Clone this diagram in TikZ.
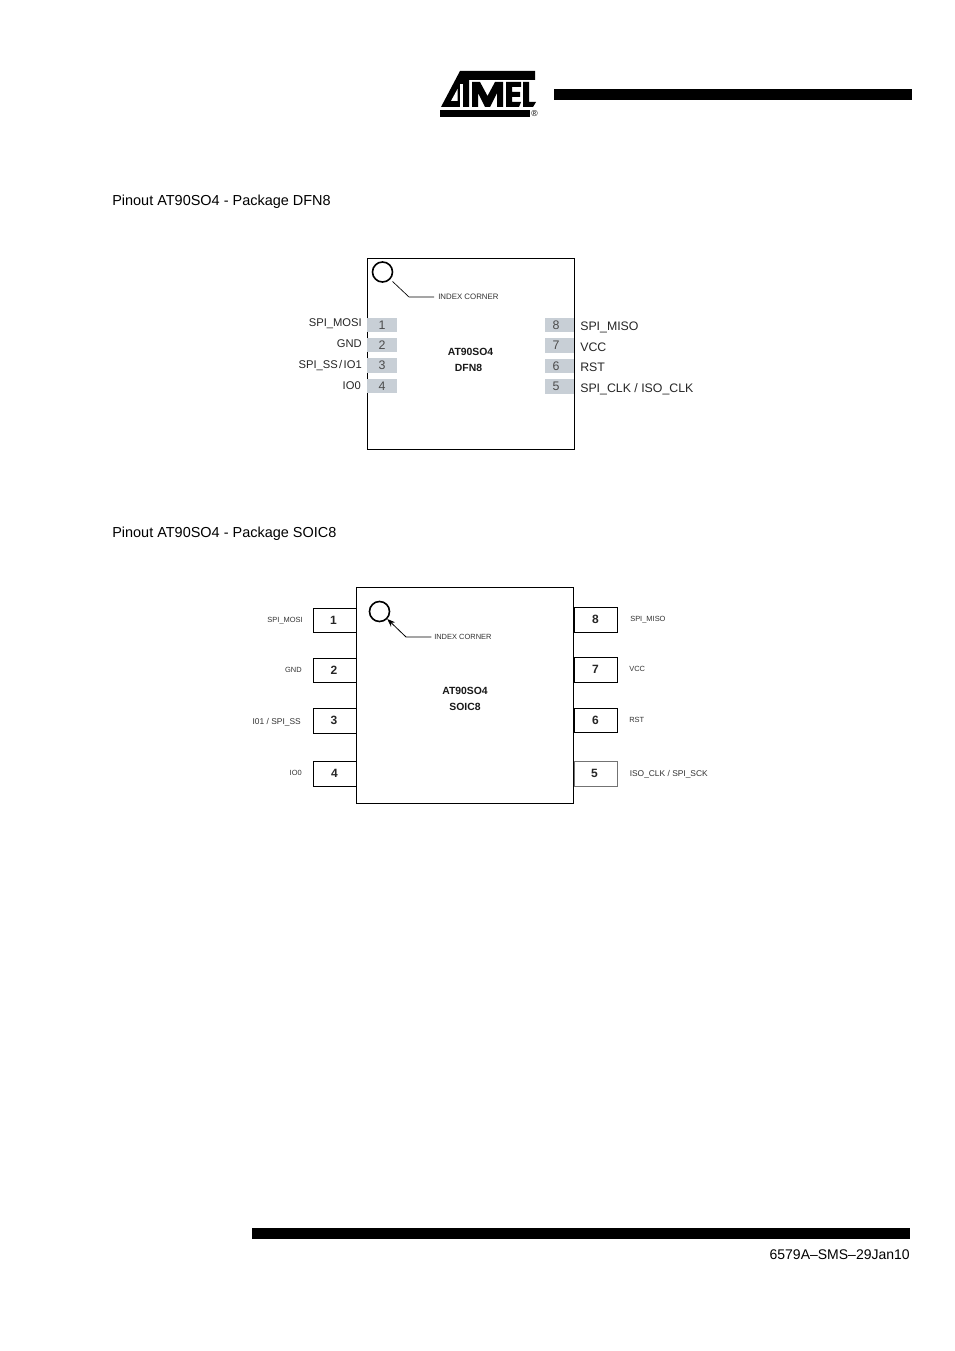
\documentclass[tikz,border=0pt]{standalone}
\usepackage{fontspec}
\usepackage{tikz}
\usetikzlibrary{arrows.meta}
\setmainfont{Liberation Sans}
\newdimen\pxu
\pxu=0.75pt
\definecolor{padgrey}{RGB}{200,207,214}
\tikzset{
  pad/.style={fill=padgrey,inner sep=0pt,text=black!70,font=\fontsize{9.3}{11}\selectfont},
  lead/.style={draw=black,line width=0.7pt,inner sep=0pt,font=\bfseries\fontsize{9}{11}\selectfont,text=black!85},
  leftlabel/.style={inner sep=0pt,anchor=east,font=\fontsize{8.4}{10}\selectfont,text=black!85},
  rightlabel/.style={inner sep=0pt,anchor=west,font=\fontsize{9.25}{11}\selectfont,text=black!85},
  smalllabel/.style={inner sep=0pt,font=\fontsize{5.6}{7}\selectfont,text=black!80},
  widelabel/.style={inner sep=0pt,font=\fontsize{6.3}{7}\selectfont,text=black!80},
  chiplabel/.style={inner sep=0pt,font=\bfseries\fontsize{7.8}{9}\selectfont,text=black!90},
  heading/.style={inner sep=0pt,anchor=west,font=\fontsize{10.85}{13}\selectfont},
  body/.style={draw=black,line width=0.7pt,inner sep=0pt},
  marker/.style={draw=black,circle,line width=1.2pt,inner sep=0pt,minimum size=20\pxu}
}
\begin{document}
\begin{tikzpicture}[x=0.75pt,y=-0.75pt]
\useasboundingbox (0,0) rectangle (954,1351);
\fill[white] (0,0) rectangle (954,1351);

% page header
\node [fill=black,inner sep=0pt,minimum width=358\pxu,minimum height=11\pxu] (topbar) at(733,94.5) {};
\fill[black] (460,71) -- (535,71) -- (535,80) -- (469,80) -- (469,107) -- (441,107) -- cycle;
\fill[white] (460,84) -- (462.5,84) -- (462.5,107) -- (460,107) -- cycle;
\fill[white] (457.5,89) -- (457.5,101) -- (451,101) -- cycle;
\fill[black] (472,82) -- (480,82) -- (487.5,96) -- (495,82) -- (503,82) -- (503,107) -- (497,107) -- (497,93) -- (490,107) -- (485,107) -- (478,93) -- (478,107) -- (472,107) -- cycle;
\fill[black] (506,82) -- (521,82) -- (521,87) -- (512,87) -- (512,92) -- (520,92) -- (520,97) -- (512,97) -- (512,102) -- (521,102) -- (519,107) -- (506,107) -- cycle;
\fill[black] (523,82) -- (529,82) -- (529,102) -- (536,102) -- (533,107) -- (523,107) -- cycle;
\fill[black] (440,110) -- (530,110) -- (530,117) -- (440,117) -- cycle;
\node [inner sep=0pt,font=\fontsize{6.5}{7}\selectfont] (reg) at(534.5,114) {\textregistered};

\node [heading] (dfnhead) at(112,201.5) {Pinout AT90SO4 - Package DFN8};
\node [heading] (soichead) at(112,533.5) {Pinout AT90SO4 - Package SOIC8};

% DFN8
\node [body,minimum width=207\pxu,minimum height=191\pxu] (dfn) at(470.5,353.5) {};
\node [marker] (dfndot) at(382.5,272) {};
\coordinate (dfnbend) at(409,297);
\node [smalllabel,anchor=west,font=\fontsize{5.9}{7}\selectfont] (dfnindex) at(438,297) {INDEX CORNER};
\draw [line width=0.5pt,shorten <=3\pxu,shorten >=4\pxu] (dfndot) -- (dfnbend) -- (dfnindex.west);

\node [pad,minimum width=30\pxu,minimum height=14\pxu] (d1) at(382,325) {1};
\node [pad,minimum width=30\pxu,minimum height=14\pxu] (d2) at(382,345) {2};
\node [pad,minimum width=30\pxu,minimum height=15\pxu] (d3) at(382,365.5) {3};
\node [pad,minimum width=30\pxu,minimum height=14\pxu] (d4) at(382,386) {4};
\node [pad,minimum width=29\pxu,minimum height=14\pxu] (d8) at(559.5,325) {8\kern7\pxu};
\node [pad,minimum width=29\pxu,minimum height=15\pxu] (d7) at(559.5,345.5) {7\kern7\pxu};
\node [pad,minimum width=29\pxu,minimum height=14\pxu] (d6) at(559.5,366) {6\kern7\pxu};
\node [pad,minimum width=29\pxu,minimum height=15\pxu] (d5) at(559.5,386.5) {5\kern7\pxu};

\node [leftlabel] (dl1) at(362,324) {SPI\_MOSI};
\node [leftlabel] (dl2) at(362,344) {GND};
\node [leftlabel] (dl3) at(362,366) {SPI\_SS\kern1pt/\kern1ptIO1};
\node [leftlabel] (dl4) at(361,386) {IO0};
\node [rightlabel] (dl8) at(580,327) {SPI\_MISO};
\node [rightlabel] (dl7) at(580,347) {VCC};
\node [rightlabel] (dl6) at(580,367) {RST};
\node [rightlabel] (dl5) at(580,389) {SPI\_CLK / ISO\_CLK};

\node [chiplabel] (dfnname) at(470.5,352) {AT90SO4};
\node [chiplabel] (dfnpack) at(468.5,368) {DFN8};

% SOIC8
\node [lead,minimum width=43\pxu,minimum height=24\pxu] (s1) at(334.5,620) {1\kern2\pxu};
\node [lead,minimum width=43\pxu,minimum height=24\pxu] (s2) at(334.5,670) {2\kern1\pxu};
\node [lead,minimum width=43\pxu,minimum height=25\pxu] (s3) at(334.5,720.5) {3\kern1\pxu};
\node [lead,minimum width=43\pxu,minimum height=25\pxu] (s4) at(334.5,773.5) {4};
\node [lead,minimum width=43\pxu,minimum height=25\pxu] (s8) at(595.5,619.5) {8};
\node [lead,minimum width=43\pxu,minimum height=25\pxu] (s7) at(595.5,669.5) {7};
\node [lead,minimum width=43\pxu,minimum height=24\pxu] (s6) at(595.5,720) {6};
\node [lead,minimum width=43\pxu,minimum height=25\pxu,draw=black!55] (s5) at(595.5,773.5) {5\kern2\pxu};
\node [body,minimum width=217\pxu,minimum height=216\pxu] (soic) at(465,695.5) {};
\node [marker] (soicdot) at(379.5,611.5) {};
\coordinate (soicbend) at(406,637);
\node [smalllabel,anchor=west] (soicindex) at(434,637) {INDEX CORNER};
\draw [-{Stealth[length=6pt,width=4.5pt]},line width=0.6pt,shorten <=2pt] (soicindex.west) -- (soicbend) -- (soicdot);

\node [smalllabel,anchor=east] (sl1) at(303,621) {SPI\_MOSI};
\node [smalllabel,anchor=east] (sl2) at(302,670) {GND};
\node [widelabel,anchor=east] (sl3) at(301,722) {I01 / SPI\_SS};
\node [smalllabel,anchor=east] (sl4) at(302,773) {IO0};
\node [smalllabel,anchor=west] (sl8) at(630,620) {SPI\_MISO};
\node [smalllabel,anchor=west] (sl7) at(629,669) {VCC};
\node [smalllabel,anchor=west] (sl6) at(629,720) {RST};
\node [widelabel,anchor=west] (sl5) at(629.5,774) {ISO\_CLK / SPI\_SCK};

\node [chiplabel] (soicname) at(465,691) {AT90SO4};
\node [chiplabel] (soicpack) at(465,706.5) {SOIC8};

% page footer
\node [fill=black,inner sep=0pt,minimum width=658\pxu,minimum height=11\pxu] (botbar) at(581,1233.5) {};
\node [inner sep=0pt,anchor=east,font=\fontsize{10.5}{12}\selectfont] (docref) at(910,1254.5) {6579A–SMS–29Jan10};
\end{tikzpicture}
\end{document}
